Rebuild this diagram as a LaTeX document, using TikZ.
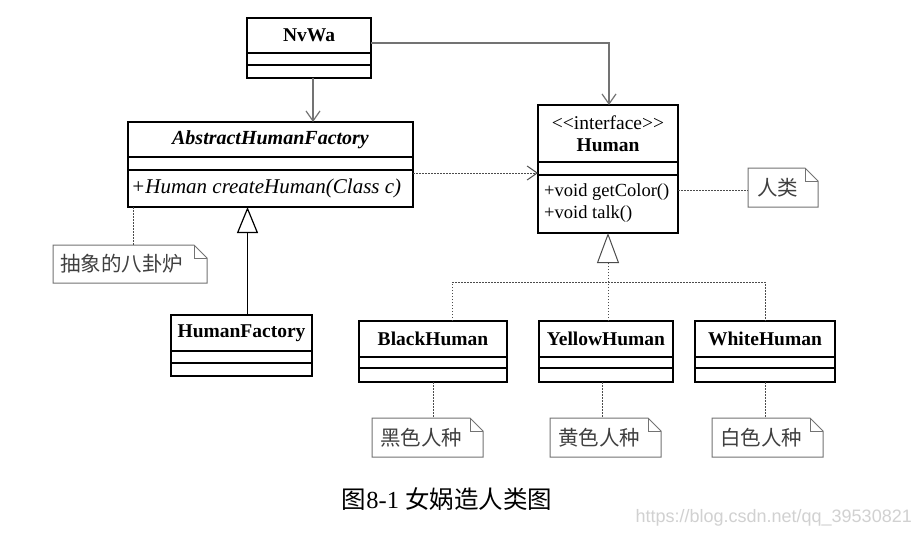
\documentclass[tikz,border=0pt]{standalone}
\usepackage{fontspec}
\setmainfont{Liberation Serif}
\newfontfamily\cjk{Noto Sans CJK SC}
\newfontfamily\wmfont{Liberation Sans}
\usetikzlibrary{arrows.meta}
\newcommand\clsdiv[2]{\draw[divline] ([yshift=-#2pt]#1.north west) -- ([yshift=-#2pt]#1.north east);}
\newcommand\drawnote[1]{%
  \draw[noteline] (#1.north west) -- ([xshift=-13pt]#1.north east) -- ([yshift=-13pt]#1.north east) -- (#1.south east) -- (#1.south west) -- cycle;
  \draw[noteline] ([xshift=-13pt]#1.north east) -- ([xshift=-13pt,yshift=-13pt]#1.north east) -- ([yshift=-13pt]#1.north east);}
\begin{document}
\begin{tikzpicture}[x=1pt,y=-1pt,
  clsbox/.style={draw=black, line width=1.3pt, anchor=north west, inner sep=0pt, outer sep=0pt},
  divline/.style={draw=black, line width=1.2pt},
  clsname/.style={font=\fontsize{19.5}{22}\selectfont\bfseries, inner sep=0pt},
  clstext/.style={font=\fontsize{19.5}{22}\selectfont, inner sep=0pt},
  optext/.style={font=\fontsize{18.5}{22}\selectfont, inner sep=0pt, anchor=west},
  notebox/.style={anchor=north west, inner sep=0pt, outer sep=0pt},
  noteline/.style={draw=black!55, line width=1pt},
  notetext/.style={font=\cjk\fontsize{20.5}{22}\selectfont, text=black!75, inner sep=0pt, anchor=west},
  assoc/.style={draw=black!55, line width=1.2pt, -{Straight Barb[length=10pt,width=14pt]}},
  depend/.style={draw=black!70, line width=1pt, dash pattern=on 1.5pt off 1.5pt, -{Straight Barb[length=10pt,width=14pt]}},
  dotlink/.style={draw=black!70, line width=1pt, dash pattern=on 1.5pt off 1.5pt},
  inherit/.style={draw=black, line width=1.2pt, -{Triangle[open, length=26pt, width=21pt, fill=white]}},
  realize/.style={draw=black!70, line width=1pt, dash pattern=on 1.5pt off 1.5pt, -{Triangle[open, length=30pt, width=22pt, fill=white]}}
]
\fill[white] (0,0) rectangle (917,535);
\useasboundingbox (0,0) rectangle (917,535);

% NvWa
\node[clsbox, minimum width=124pt, minimum height=60pt] (nvwa) at (247,18) {};
\clsdiv{nvwa}{35}\clsdiv{nvwa}{47}
\node[clsname] (nvwa-t) at ([yshift=-17pt]nvwa.north) {NvWa};

% AbstractHumanFactory
\node[clsbox, minimum width=285pt, minimum height=85pt] (ahf) at (128,122) {};
\clsdiv{ahf}{35}\clsdiv{ahf}{48}
\node[clsname, font=\fontsize{20}{22}\selectfont\bfseries\itshape] (ahf-t) at ([yshift=-17.5pt]ahf.north) {AbstractHumanFactory};
\node[clstext, font=\fontsize{21}{22}\selectfont\itshape, anchor=west] (ahf-op) at ([xshift=3pt,yshift=-66.5pt]ahf.north west) {+Human createHuman(Class c)};

% Human
\node[clsbox, minimum width=140pt, minimum height=128pt] (human) at (538,105) {};
\clsdiv{human}{57}\clsdiv{human}{70}
\node[clstext] (human-s) at ([yshift=-18pt]human.north) {<{}<interface>{}>};
\node[clsname] (human-t) at ([yshift=-40pt]human.north) {Human};
\node[optext] (human-op1) at ([xshift=6pt,yshift=-87pt]human.north west) {+void getColor()};
\node[optext] (human-op2) at ([xshift=6pt,yshift=-109pt]human.north west) {+void talk()};

% HumanFactory
\node[clsbox, minimum width=141pt, minimum height=61pt] (hf) at (171,315) {};
\clsdiv{hf}{36}\clsdiv{hf}{48}
\node[clsname] (hf-t) at ([yshift=-18pt]hf.north) {HumanFactory};

% Subclasses
\node[clsbox, minimum width=148pt, minimum height=61pt] (bh) at (359,321) {};
\clsdiv{bh}{36}\clsdiv{bh}{47}
\node[clsname] (bh-t) at ([yshift=-18pt]bh.north) {BlackHuman};

\node[clsbox, minimum width=134pt, minimum height=61pt] (yh) at (539,321) {};
\clsdiv{yh}{36}\clsdiv{yh}{47}
\node[clsname] (yh-t) at ([yshift=-18pt]yh.north) {YellowHuman};

\node[clsbox, minimum width=140pt, minimum height=61pt] (wh) at (695,321) {};
\clsdiv{wh}{36}\clsdiv{wh}{47}
\node[clsname] (wh-t) at ([yshift=-18pt]wh.north) {WhiteHuman};

% Notes
\node[notebox, minimum width=154pt, minimum height=38pt] (nbagua) at (53,245) {};
\drawnote{nbagua}
\node[notetext] (nbagua-t) at ([xshift=7pt]nbagua.west) {抽象的八卦炉};

\node[notebox, minimum width=70pt, minimum height=39pt] (nren) at (748,168) {};
\drawnote{nren}
\node[notetext] (nren-t) at ([xshift=9pt]nren.west) {人类};

\node[notebox, minimum width=111pt, minimum height=39pt] (nblack) at (372,418) {};
\drawnote{nblack}
\node[notetext] (nblack-t) at ([xshift=8pt]nblack.west) {黑色人种};

\node[notebox, minimum width=111pt, minimum height=39pt] (nyellow) at (550,418) {};
\drawnote{nyellow}
\node[notetext] (nyellow-t) at ([xshift=8pt]nyellow.west) {黄色人种};

\node[notebox, minimum width=111pt, minimum height=39pt] (nwhite) at (712,418) {};
\drawnote{nwhite}
\node[notetext] (nwhite-t) at ([xshift=8pt]nwhite.west) {白色人种};

% Connectors
\draw[assoc] ([xshift=4pt]nvwa.south) -- ([xshift=4pt]nvwa.south |- ahf.north);
\draw[assoc] ([yshift=5pt]nvwa.east) -| ([xshift=1pt]human.north);
\draw[depend] ([yshift=-8.5pt]ahf.east) -- ([yshift=-8.5pt]ahf.east -| human.west);
\draw[dotlink] ([yshift=-21pt]human.east) -- ([yshift=-21pt]human.east -| nren.west);
\draw[dotlink] ([xshift=5pt]ahf.south west) -- ([xshift=5pt]ahf.south west |- nbagua.north);
\draw[inherit] ([xshift=6pt]hf.north) -- ([xshift=6pt]hf.north |- ahf.south);

\coordinate (j) at ([yshift=-49pt]human.south);
\draw[dotlink] ([xshift=19pt]bh.north) |- (wh.north |- j) -- (wh.north);
\draw[dotlink] (yh.north -| j) -- (j);
\draw[realize] (j) -- (human.south);

\draw[dotlink] (bh.south) -- (bh.south |- nblack.north);
\draw[dotlink] ([xshift=-4pt]yh.south) -- ([xshift=-4pt]yh.south |- nyellow.north);
\draw[dotlink] (wh.south) -- (wh.south |- nwhite.north);

% Caption and watermark
\node[inner sep=0pt, font=\fontsize{24.5}{28}\selectfont] (cap) at (447,499) {{\cjk 图}8-1 {\cjk 女娲造人类图}};
\node[inner sep=0pt, anchor=east, font=\wmfont\fontsize{18}{20}\selectfont, text=black!18] (wm) at (912,518) {https://blog.csdn.net/qq\_39530821};
\end{tikzpicture}
\end{document}
